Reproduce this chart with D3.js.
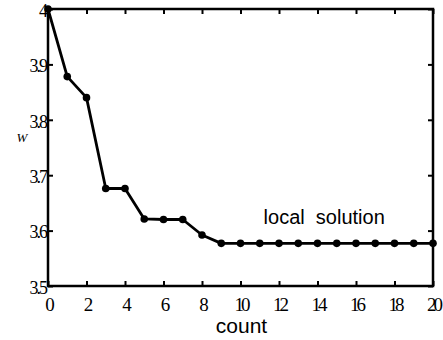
<!DOCTYPE html>
<html>
<head>
<meta charset="utf-8">
<script src="https://cdn.jsdelivr.net/npm/d3@7"></script>
<style>
  body { margin: 0; background: #fff; }
  svg { display: block; }
</style>
</head>
<body>
<div id="chart"></div>
<script>
// values
var counts = [0, 1, 2, 3, 4, 5, 6, 7, 8, 9, 10, 11, 12, 13, 14, 15, 16, 17, 18, 19, 20];
var wValues = [4.0, 3.878, 3.84, 3.676, 3.676, 3.621, 3.62, 3.62, 3.592, 3.577,
  3.577, 3.577, 3.577, 3.577, 3.577, 3.577, 3.577, 3.577, 3.577, 3.577, 3.577];
var xTicks = [0, 2, 4, 6, 8, 10, 12, 14, 16, 18, 20];
var yTicks = [3.5, 3.6, 3.7, 3.8, 3.9, 4.0];
var yTickLabels = ["3.5", "3.6", "3.7", "3.8", "3.9", "4"];

var svgWidth = 443, svgHeight = 340;
var margin = { top: 9, right: 10, bottom: 54, left: 48 };
var w = svgWidth - margin.left - margin.right;
var h = svgHeight - margin.top - margin.bottom;

var svg = d3.select("#chart").append("svg")
  .attr("width", svgWidth)
  .attr("height", svgHeight);

var g = svg.append("g")
  .attr("transform", `translate(${margin.left}, ${margin.top})`);

var x = d3.scaleLinear().domain([0, 20]).range([0, w]);
var y = d3.scaleLinear().domain([3.5, 4.0]).range([h, 0]);

// frame
g.append("rect")
  .attr("width", w).attr("height", h)
  .attr("fill", "none").attr("stroke", "#000").attr("stroke-width", 2.5);

var tickFont = "'Liberation Serif', 'DejaVu Serif', serif";

// axes with inward ticks on all four sides
var xAxisB = g.append("g")
  .attr("transform", `translate(0, ${h})`)
  .call(d3.axisBottom(x).tickValues(xTicks).tickSize(-5).tickPadding(12).tickFormat(d3.format("d")));
var xAxisT = g.append("g")
  .call(d3.axisTop(x).tickValues(xTicks).tickSize(-5).tickFormat(""));
var yAxisL = g.append("g")
  .call(d3.axisLeft(y).tickValues(yTicks).tickSize(-5).tickPadding(2)
    .tickFormat((d, i) => yTickLabels[i]));
var yAxisR = g.append("g")
  .attr("transform", `translate(${w}, 0)`)
  .call(d3.axisRight(y).tickValues(yTicks).tickSize(-5).tickFormat(""));

[xAxisB, xAxisT, yAxisL, yAxisR].forEach(function(a) {
  a.select(".domain").remove();
  a.selectAll("line").attr("stroke", "#000").attr("stroke-width", 2);
});

xAxisB.selectAll("text")
  .attr("font-family", tickFont)
  .attr("font-size", 19)
  .attr("letter-spacing", "-3px")
  .attr("fill", "#000");

yAxisL.selectAll("text")
  .attr("font-family", tickFont)
  .attr("font-size", 18)
  .attr("letter-spacing", "-2px")
  .attr("dy", "0.4em")
  .attr("fill", "#000");

// line and markers
var line = d3.line()
  .x((d, i) => x(counts[i]))
  .y(d => y(d));

g.append("path")
  .datum(wValues)
  .attr("d", line)
  .attr("fill", "none")
  .attr("stroke", "#000")
  .attr("stroke-width", 2.8)
  .attr("stroke-linejoin", "round");

g.selectAll(".dot")
  .data(wValues)
  .enter()
  .append("circle")
  .attr("class", "dot")
  .attr("cx", (d, i) => x(counts[i]))
  .attr("cy", d => y(d))
  .attr("r", 3.8)
  .attr("fill", "#000");

// annotation
g.append("text")
  .attr("x", x(11.2))
  .attr("y", y(3.6) - 7)
  .style("font-family", "'Liberation Sans', Arial, sans-serif")
  .style("font-size", "20px")
  .style("white-space", "pre")
  .attr("fill", "#000")
  .text("local  solution");

// axis labels
svg.append("text")
  .attr("x", margin.left + x(10) + 1)
  .attr("y", 333)
  .attr("text-anchor", "middle")
  .style("font-family", "'Liberation Sans', Arial, sans-serif")
  .style("font-size", "21px")
  .attr("fill", "#000")
  .text("count");

svg.append("text")
  .attr("x", 22)
  .attr("y", 142)
  .attr("text-anchor", "middle")
  .style("font-family", tickFont)
  .style("font-style", "italic")
  .style("font-size", "13px")
  .attr("fill", "#000")
  .text("W");
</script>
</body>
</html>
